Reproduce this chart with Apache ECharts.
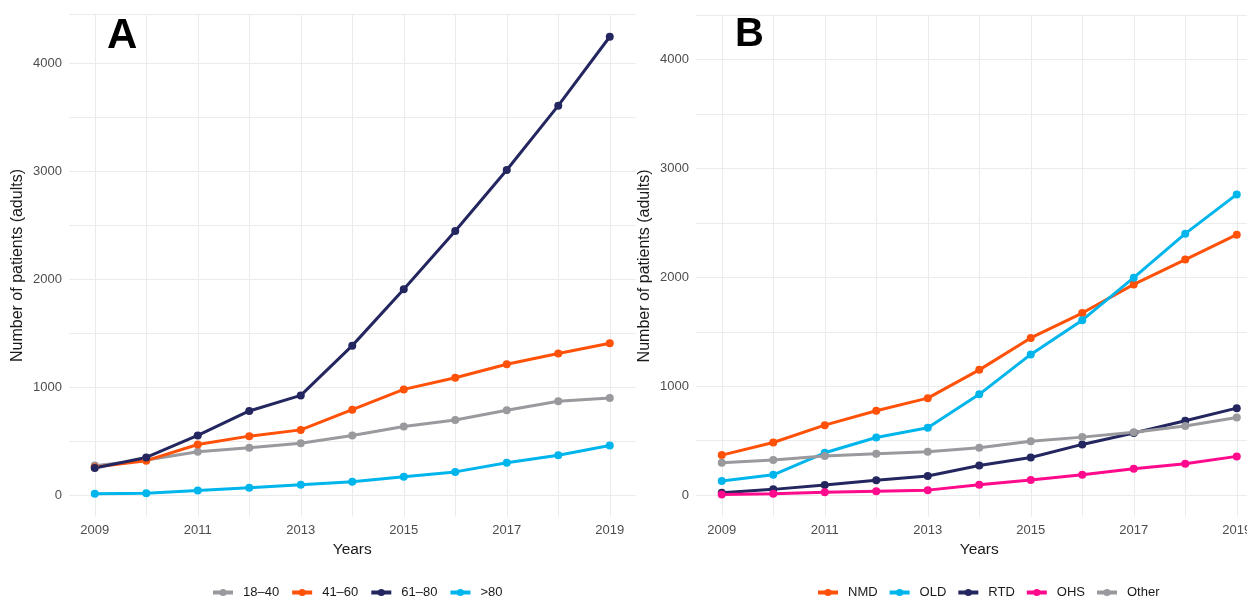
<!DOCTYPE html>
<html>
<head>
<meta charset="utf-8">
<script src="https://cdn.jsdelivr.net/npm/echarts@6/dist/echarts.min.js"></script>
<style>
html,body{margin:0;padding:0;background:#fff;overflow:hidden;}
#c{width:1247px;height:597px;}
</style>
</head>
<body>
<div id="c"></div>
<script>
const years = [2009,2010,2011,2012,2013,2014,2015,2016,2017,2018,2019];

// Panel A (age groups)
const ageNames = ['18–40','41–60','61–80','>80'];
const age18_40 = [272,325,400,437,480,550,635,695,785,868,898];
const age41_60 = [258,318,468,545,603,790,978,1085,1210,1310,1405];
const age61_80 = [250,348,552,778,922,1383,1905,2444,3009,3605,4243];
const age80p   = [12,16,42,66,95,123,170,214,298,368,458];

// Panel B (diagnosis groups)
const diagNames = ['NMD','OLD','RTD','OHS','Other'];
const nmd   = [367,483,642,774,890,1150,1443,1672,1935,2163,2392];
const old   = [128,186,388,529,618,925,1292,1606,1997,2401,2762];
const rtd   = [21,52,92,135,174,272,345,465,570,683,798];
const ohs   = [6,12,25,35,45,95,138,186,241,287,355];
const other = [297,321,358,380,398,434,495,532,576,634,713];

const yTickLabels = [0,1000,2000,3000,4000];
const xTickLabels = [2009,2011,2013,2015,2017,2019];

const C = {gray:'#9a9a9e', orange:'#ff5108', navy:'#23265f', cyan:'#00b5ec', pink:'#ff0a8c'};
const FONT = 'Liberation Sans, Arial, sans-serif';
const GRID = '#ebebeb', NONE = 'rgba(0,0,0,0)';

function pairs(vals){ return years.map((y,i)=>[y, vals[i]]); }

function line(name, vals, color, xi){
  return {
    type:'line', name, data: pairs(vals), xAxisIndex: xi, yAxisIndex: xi,
    symbol:'circle', symbolSize:8, showSymbol:true,
    lineStyle:{color, width:3}, itemStyle:{color},
    emphasis:{disabled:true}, animation:false, z: 3
  };
}

// x ticks every 0.5 from 2008.5: lines drawn only on whole years
function xAx(gi){
  return {
    type:'value', gridIndex:gi, min:2008.5, max:2019.5, interval:0.5,
    name:'Years', nameLocation:'middle', nameGap:18,
    nameTextStyle:{fontFamily:FONT, fontSize:15.5, color:'#1a1a1a'},
    axisLine:{show:false}, axisTick:{show:false},
    axisLabel:{fontFamily:FONT, fontSize:13, color:'#4d4d4d', margin:7, hideOverlap:false,
      formatter: v => xTickLabels.indexOf(Math.round(v*10)/10) >= 0 ? String(Math.round(v)) : ''},
    splitLine:{show:true, lineStyle:{color:[NONE, GRID], width:1}}
  };
}
// y ticks every 100 from -200: lines drawn only at multiples of 500
function yAx(gi, max){
  return {
    type:'value', gridIndex:gi, min:-200, max:max, interval:100,
    name:'Number of patients (adults)', nameLocation:'middle', nameGap:43,
    nameTextStyle:{fontFamily:FONT, fontSize:16, color:'#1a1a1a'},
    axisLine:{show:false}, axisTick:{show:false},
    axisLabel:{fontFamily:FONT, fontSize:13, color:'#4d4d4d', margin:7,
      formatter: v => yTickLabels.indexOf(Math.round(v)) >= 0 ? String(Math.round(v)) : ''},
    splitLine:{show:true, lineStyle:{color:[NONE, NONE, GRID, NONE, NONE], width:1}}
  };
}

const legendText = {fontFamily:FONT, fontSize:13, color:'#1a1a1a', padding:[0,0,0,5]};

const chart = echarts.init(document.getElementById('c'), null, {renderer:'canvas'});
chart.setOption({
  backgroundColor:'#fff',
  animation:false,
  textStyle:{fontFamily:FONT},
  title:[
    {text:'A', left:102, top:10, textStyle:{fontFamily:FONT, fontSize:42, fontWeight:'bold', color:'#000'}},
    {text:'B', left:730, top:10, textStyle:{fontFamily:FONT, fontSize:40, fontWeight:'bold', color:'#000'}}
  ],
  grid:[
    {left:69, top:14.4, width:566.5, height:502.2, outerBoundsMode:'none', containLabel:false},
    {left:696, top:15, width:566.5, height:501.8, outerBoundsMode:'none', containLabel:false}
  ],
  xAxis:[xAx(0), xAx(1)],
  yAxis:[yAx(0,4450), yAx(1,4410)],
  legend:[
    {data:ageNames, left:206, top:581, itemWidth:20, itemHeight:9, itemGap:11,
     lineStyle:{width:4}, textStyle:legendText},
    {data:diagNames, left:811, top:581, itemWidth:20, itemHeight:9, itemGap:10,
     lineStyle:{width:4}, textStyle:legendText}
  ],
  series:[
    line(ageNames[0], age18_40, C.gray, 0),
    line(ageNames[1], age41_60, C.orange, 0),
    line(ageNames[2], age61_80, C.navy, 0),
    line(ageNames[3], age80p, C.cyan, 0),
    line(diagNames[0], nmd, C.orange, 1),
    line(diagNames[1], old, C.cyan, 1),
    line(diagNames[2], rtd, C.navy, 1),
    line(diagNames[3], ohs, C.pink, 1),
    line(diagNames[4], other, C.gray, 1)
  ]
});
</script>
</body>
</html>
